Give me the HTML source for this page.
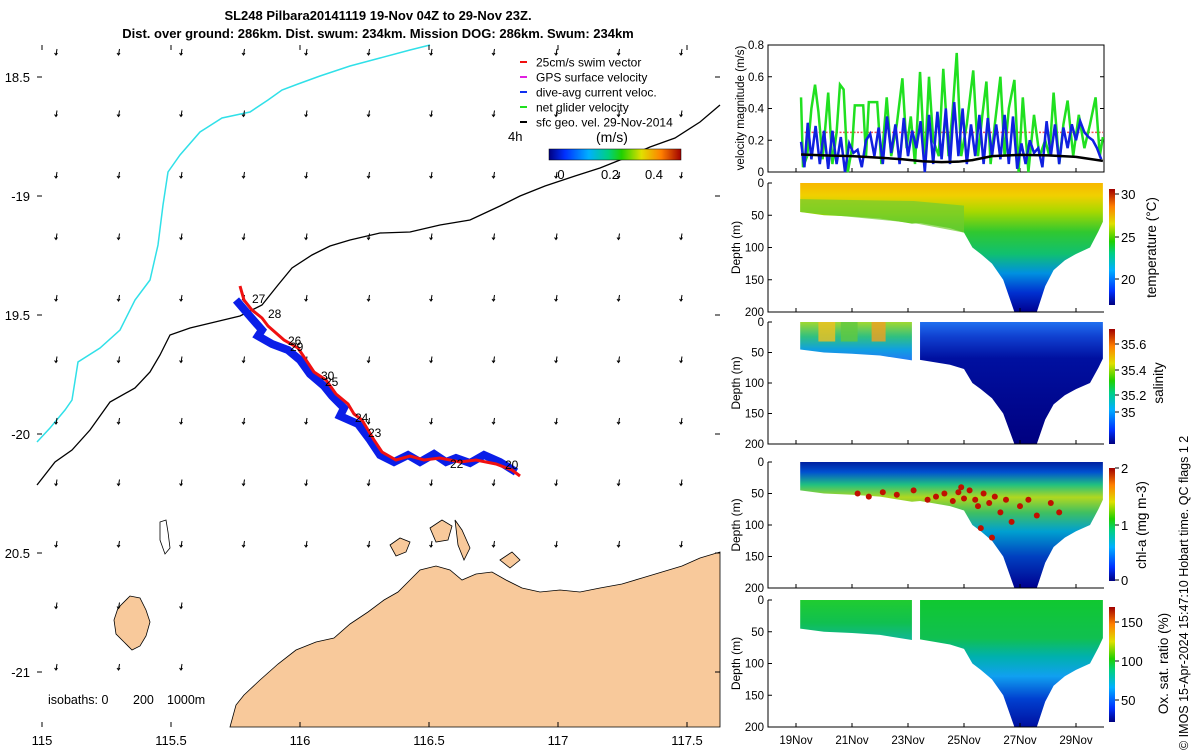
<!DOCTYPE html>
<html><head><meta charset="utf-8">
<style>
html,body{margin:0;padding:0;background:#fff;}
svg{display:block;font-family:"Liberation Sans",sans-serif;}
</style></head>
<body>
<svg id="fig" width="1200" height="750" viewBox="0 0 1200 750" xmlns="http://www.w3.org/2000/svg">
<defs id="defs">
<linearGradient id="jetH" x1="0" x2="1" y1="0" y2="0">
<stop offset="0" stop-color="#000080"/><stop offset="0.12" stop-color="#0030ff"/><stop offset="0.3" stop-color="#00b0ff"/><stop offset="0.45" stop-color="#00d080"/><stop offset="0.55" stop-color="#20d000"/><stop offset="0.7" stop-color="#e0e000"/><stop offset="0.85" stop-color="#ff8000"/><stop offset="1" stop-color="#a00000"/>
</linearGradient>
<linearGradient id="jetV" x1="0" x2="0" y1="1" y2="0">
<stop offset="0" stop-color="#000080"/><stop offset="0.12" stop-color="#0030ff"/><stop offset="0.3" stop-color="#00b0ff"/><stop offset="0.45" stop-color="#00d080"/><stop offset="0.55" stop-color="#20d000"/><stop offset="0.7" stop-color="#e0e000"/><stop offset="0.85" stop-color="#ff8000"/><stop offset="1" stop-color="#a00000"/>
</linearGradient>
</defs>

<text x="378" y="20" text-anchor="middle" font-size="13" font-weight="bold">SL248 Pilbara20141119 19-Nov 04Z to 29-Nov 23Z.</text>
<text x="378" y="38" text-anchor="middle" font-size="13" font-weight="bold">Dist. over ground: 286km. Dist. swum: 234km. Mission DOG: 286km. Swum: 234km</text>

<g id="map"></g>
<g id="right"></g>

<text x="0" y="0" transform="translate(1188,750) rotate(-90)" font-size="12.5">© IMOS 15-Apr-2024 15:47:10 Hobart time. QC flags 1  2</text>
</svg>

<script>
const NS="http://www.w3.org/2000/svg";
function mk(parent,tag,attrs,txt){const e=document.createElementNS(NS,tag);for(const k in attrs)e.setAttribute(k,attrs[k]);if(txt!==undefined)e.textContent=txt;parent.appendChild(e);return e;}

// ---------------- DATA ----------------
const mapLonTicks=[115,115.5,116,116.5,117,117.5];
const mapLonLabels=["115","115.5","116","116.5","117","117.5"];
const mapLatTicks=[-18.5,-19,-19.5,-20,-20.5,-21];
const mapLatLabels=["18.5","-19","19.5","-20","20.5","-21"];
const dayTicks=[1,3,5,7,9,11];
const dayLabels=["19Nov","21Nov","23Nov","25Nov","27Nov","29Nov"];
const velTicks=[0,0.2,0.4,0.6,0.8];
const depthTicks=[0,50,100,150,200];
const greenT=[1.18,1.25,1.4,1.55,1.68,1.8,1.95,2.15,2.3,2.45,2.57,2.7,2.85,3.0,3.1,3.4,3.5,3.6,3.9,4.05,4.24,4.4,4.6,4.8,4.95,5.1,5.25,5.43,5.6,5.75,5.9,6.1,6.26,6.45,6.6,6.74,6.9,7.1,7.33,7.5,7.65,7.8,7.95,8.1,8.3,8.45,8.6,8.8,8.95,9.1,9.3,9.5,9.7,9.9,10.05,10.2,10.4,10.55,10.7,10.9,11.1,11.3,11.5,11.7,11.85,11.96];
const greenV=[0.47,0.03,0.1,0.4,0.55,0.38,0.08,0.5,0.05,0.25,0.55,0.52,0.0,0.15,0.42,0.42,0.1,0.44,0.44,0.05,0.47,0.1,0.3,0.59,0.15,0.35,0.05,0.63,0.05,0.6,0.2,0.1,0.65,0.1,0.4,0.75,0.1,0.3,0.64,0.1,0.35,0.57,0.05,0.3,0.6,0.1,0.4,0.58,0.0,0.47,0.0,0.36,0.1,0.2,0.1,0.5,0.05,0.3,0.45,0.1,0.36,0.15,0.3,0.47,0.1,0.22];
const blueT=[1.18,1.3,1.42,1.55,1.7,1.85,2.0,2.15,2.3,2.45,2.6,2.75,2.9,3.05,3.2,3.35,3.5,3.65,3.8,3.95,4.1,4.25,4.4,4.55,4.7,4.85,5.0,5.15,5.3,5.45,5.6,5.75,5.9,6.05,6.2,6.35,6.5,6.65,6.8,6.95,7.1,7.25,7.4,7.55,7.7,7.85,8.0,8.15,8.3,8.45,8.6,8.75,8.9,9.05,9.2,9.35,9.5,9.65,9.8,9.95,10.1,10.25,10.4,10.55,10.7,10.85,11.0,11.15,11.3,11.45,11.6,11.75,11.9];
const blueV=[0.19,0.03,0.31,0.08,0.29,0.05,0.26,0.02,0.26,0.05,0.22,0.0,0.18,0.12,0.14,0.03,0.2,0.24,0.1,0.28,0.05,0.35,0.12,0.3,0.05,0.34,0.1,0.26,0.15,0.32,0.0,0.36,0.05,0.38,0.08,0.4,0.05,0.44,0.1,0.4,0.05,0.3,0.1,0.36,0.05,0.34,0.1,0.3,0.08,0.36,0.05,0.35,0.02,0.18,0.05,0.2,0.12,0.15,0.03,0.32,0.1,0.3,0.05,0.28,0.15,0.3,0.2,0.32,0.25,0.22,0.2,0.15,0.08];
const blackT=[1.18,2,3,4,4.8,5.5,6.2,6.8,7.3,8,9,10,11,11.96];
const blackV=[0.11,0.105,0.1,0.09,0.08,0.068,0.062,0.065,0.075,0.1,0.108,0.105,0.095,0.07];
const swimV=0.25;
const bottomT=[1.15,2,3,4,5.14,5.43,6.5,7.0,7.3,7.6,8.0,8.4,8.8,9.6,9.9,10.2,10.6,11.0,11.5,11.8,11.96];
const bottomD=[45,50,52,55,63,62,70,77,100,110,125,150,200,200,160,135,120,110,100,75,60];
const chlDotT=[3.2,3.6,4.1,4.6,5.2,5.7,6.0,6.3,6.6,6.8,7.0,7.2,7.4,7.5,7.7,7.9,8.1,8.3,8.5,8.7,9.0,9.3,9.6,10.1,10.4,6.9,7.6,8.0];
const chlDotD=[50,55,48,52,45,60,55,50,62,48,58,45,60,70,50,65,55,80,60,95,70,60,85,65,80,40,105,120];

// ---------------- MAP ----------------
const map=document.getElementById('map');
const lonX=l=>42+(l-115)*258;
const latY=l=>77+(-18.5-l)*238;
const land=mk(map,'path',{d:"M230,727 L236,705 L244,695 L260,680 L278,664 L296,650 L316,642 L334,638 L350,624 L368,612 L384,600 L398,592 L410,580 L420,570 L436,566 L450,570 L462,580 L476,574 L492,572 L506,580 L522,588 L540,592 L560,590 L580,592 L600,588 L622,584 L642,578 L662,572 L682,566 L700,558 L720,552 L720,727 Z",fill:"#f8c99b",stroke:"#000","stroke-width":"0.8"});


const isl=mk(map,'path',{d:"M118,608 L130,596 L140,598 L146,610 L150,622 L146,636 L140,646 L132,650 L124,642 L116,634 L114,620 Z",fill:"#f8c99b",stroke:"#000","stroke-width":"0.8"});


const isl2=mk(map,'path',{d:"M390,545 L400,538 L410,542 L406,552 L396,556 Z M430,528 L442,520 L452,526 L448,540 L436,542 Z M455,520 L462,530 L470,548 L464,560 L458,545 Z M500,560 L512,552 L520,560 L510,568 Z",fill:"#f8c99b",stroke:"#000","stroke-width":"0.8"});


const isl3=mk(map,'path',{d:"M160,522 L166,520 L168,532 L170,548 L165,554 L160,540 Z",fill:"none",stroke:"#000","stroke-width":"0.8"});


const cyan=mk(map,'polyline',{points:"37,442 50,428 65,410 72,400 78,362 100,348 120,330 135,300 150,280 158,245 163,205 168,172 180,155 200,132 222,118 250,112 268,100 282,90 298,84 320,76 350,66 380,58 410,50 430,45",fill:"none",stroke:"#30e0e8","stroke-width":"1.5"});


const blk=mk(map,'polyline',{points:"37,485 55,462 72,450 90,430 110,402 135,388 150,372 160,355 170,335 190,328 215,322 240,316 262,305 278,285 292,268 312,255 330,246 350,240 380,233 410,232 440,225 470,220 500,206 520,196 545,186 575,176 600,168 625,158 650,147 675,138 700,122 720,105",fill:"none",stroke:"#000","stroke-width":"1.3"});


for(let i=0;i<11;i++){for(let j=0;j<11;j++){
  const x=57+i*62.5, y=52+j*61.5;
  if(y>560 && x>240) continue;
  if(y>600 && x>215) continue;
  const a=mk(map,'path',{d:`M${x},${y-3} L${x-1},${y+3} M${x-2.5},${y+1} L${x-1},${y+3} L${x+0.5},${y+1}`,stroke:"#000","stroke-width":"1",fill:"none"});
  
  
}}
const trk=mk(map,'polyline',{points:"236,300 248,314 262,330 258,336 272,344 288,350 300,360 310,374 324,386 332,396 344,408 340,416 358,424 370,440 380,455 394,462 408,455 420,462 434,454 446,462 456,458 470,463 484,455 500,462 516,472",fill:"none",stroke:"#0a1ee8","stroke-width":"8","stroke-linejoin":"miter"});


const trkr=mk(map,'polyline',{points:"240,286 244,300 252,310 262,318 268,326 284,340 298,348 306,360 314,372 326,380 336,394 348,404 354,414 362,420 368,430 374,440 382,452 396,460 410,456 424,460 440,458 460,462 476,460 496,464 512,470 520,476",fill:"none",stroke:"#f01010","stroke-width":"3"});


const tLabels=[["27",252,303],["28",268,318],["26",288,345],["29",290,351],["30",321,380],["25",325,386],["24",355,422],["23",368,437],["22",450,468],["20",505,469]];
tLabels.forEach(t=>{const e=mk(map,'text',{x:t[1],y:t[2],"font-size":"12"},t[0]);
  
  });
mapLonTicks.forEach((v,i)=>{const x=lonX(v);
  mk(map,'line',{x1:x,x2:x,y1:727,y2:722,stroke:"#000"});
  mk(map,'line',{x1:x,x2:x,y1:45,y2:50,stroke:"#000"});
  const e=mk(map,'text',{x:x,y:745,"font-size":"13","text-anchor":"middle"},mapLonLabels[i]);
  
  });
mapLatTicks.forEach((v,i)=>{const y=latY(v);
  mk(map,'line',{x1:37,x2:42,y1:y,y2:y,stroke:"#000"});
  mk(map,'line',{x1:715,x2:720,y1:y,y2:y,stroke:"#000"});
  const e=mk(map,'text',{x:30,y:y+5,"font-size":"13","text-anchor":"end"},mapLatLabels[i]);
  
  });
[["isobaths: 0",48],["200",133],["1000m",167]].forEach(t=>{
  const iso=mk(map,'text',{x:t[1],y:704,"font-size":"12.5"},t[0]);
  
  });
const legItems=[["25cm/s swim vector","#f01010"],["GPS surface velocity","#e020e0"],["dive-avg current veloc.","#1030f0"],["net glider velocity","#20e020"],["sfc geo. vel. 29-Nov-2014","#000"]];
legItems.forEach((it,i)=>{const y=62+i*15;
  const l=mk(map,'line',{x1:520,x2:527,y1:y,y2:y,stroke:it[1],"stroke-width":"2"});
  
  
  const e=mk(map,'text',{x:536,y:y+4.5,"font-size":"12"},it[0]);
  
  });
const h4=mk(map,'text',{x:508,y:141,"font-size":"13"},"4h");


const ms=mk(map,'text',{x:596,y:142,"font-size":"14"},"(m/s)");


const cb=mk(map,'rect',{x:549,y:149,width:132,height:11,fill:"url(#jetH)",stroke:"#000","stroke-width":"0.5"});


[["0",561],["0.2",610],["0.4",654]].forEach(t=>{const e=mk(map,'text',{x:t[1],y:179,"font-size":"13","text-anchor":"middle"},t[0]);
  
  });

// ---------------- RIGHT PANELS ----------------
const R=document.getElementById('right');
const defs=document.getElementById('defs');
const X0=768, DX=28;
const tx=t=>X0+t*DX;
function interpBottom(t){for(let i=0;i<bottomT.length-1;i++){if(t>=bottomT[i]&&t<=bottomT[i+1]){const f=(t-bottomT[i])/(bottomT[i+1]-bottomT[i]);return bottomD[i]+f*(bottomD[i+1]-bottomD[i]);}}return bottomD[bottomD.length-1];}
function grad(id,y1,y2,stops){const g=mk(defs,'linearGradient',{id:id,gradientUnits:"userSpaceOnUse",x1:0,x2:0,y1:y1,y2:y2});stops.forEach(s=>mk(g,'stop',{offset:s[0],"stop-color":s[1]}));return "url(#"+id+")";}

const vTop=45,vBot=172;
const vy=v=>vBot-(v/0.8)*(vBot-vTop);
const vbox=mk(R,'rect',{x:768,y:vTop,width:336,height:vBot-vTop,fill:"none",stroke:"#000","stroke-width":"1"});


velTicks.forEach(v=>{const y=vy(v);mk(R,'line',{x1:768,x2:772,y1:y,y2:y,stroke:"#000"});mk(R,'line',{x1:1100,x2:1104,y1:y,y2:y,stroke:"#000"});
  const e=mk(R,'text',{x:764,y:y+4,"font-size":"11.5","text-anchor":"end"},v===0?"0":v.toFixed(1));
  
  });
dayTicks.forEach(d=>{mk(R,'line',{x1:tx(d),x2:tx(d),y1:vBot,y2:vBot-4,stroke:"#000"});});
const swim=mk(R,'line',{x1:tx(greenT[0]),x2:tx(11.96),y1:vy(swimV),y2:vy(swimV),stroke:"#f05050","stroke-width":"1.5","stroke-dasharray":"2,1.5"});


const gl=mk(R,'polyline',{points:greenT.map((t,i)=>tx(t)+","+vy(greenV[i])).join(" "),fill:"none",stroke:"#20e020","stroke-width":"2.5"});


const bl=mk(R,'polyline',{points:blueT.map((t,i)=>tx(t)+","+vy(blueV[i])).join(" "),fill:"none",stroke:"#1020e0","stroke-width":"2.5"});


const kl=mk(R,'polyline',{points:blackT.map((t,i)=>tx(t)+","+vy(blackV[i])).join(" "),fill:"none",stroke:"#000","stroke-width":"2.5"});


const vyl=mk(R,'text',{transform:"translate(744,108) rotate(-90)","font-size":"11.5","text-anchor":"middle"},"velocity magnitude (m/s)");



const panels=[
 {top:183,bot:312,gap:false,name:"temperature",label:"temperature (°C)",lx:1156,cbTop:189,cbBot:305,ticks:[["30",194],["25",237],["20",279]],
  stops:[[0,"#f8b800"],[0.1,"#f0d000"],[0.22,"#a8d800"],[0.38,"#30c830"],[0.55,"#10c070"],[0.7,"#0090e0"],[0.85,"#0030d0"],[1,"#000090"]]},
 {top:322,bot:444,gap:true,name:"salinity",label:"salinity",lx:1163,cbTop:329,cbBot:444,ticks:[["35.6",344],["35.4",370],["35.2",395],["35",412]],
  stops:[[0,"#2070f0"],[0.12,"#1040d0"],[0.3,"#0010a0"],[1,"#000080"]]},
 {top:462,bot:588,gap:false,name:"chlorophyll",label:"chl-a (mg m-3)",lx:1146,cbTop:468,cbBot:581,ticks:[["2",468],["1",525],["0",580]],
  stops:[[0,"#0020a0"],[0.08,"#0050d0"],[0.18,"#20c080"],[0.28,"#b0d820"],[0.4,"#40c060"],[0.55,"#00a0d0"],[0.75,"#0040c0"],[1,"#000090"]]},
 {top:600,bot:727,gap:true,name:"oxygen",label:"Ox. sat. ratio (%)",lx:1168,cbTop:607,cbBot:722,ticks:[["150",622],["100",661],["50",700]],
  stops:[[0,"#10c830"],[0.3,"#10c050"],[0.45,"#00b0b0"],[0.6,"#10a0f0"],[0.78,"#0040d0"],[1,"#0010a0"]]}
];
panels.forEach((p,pi)=>{
  const dy=d=>p.top+d/200*(p.bot-p.top);
  const mainFill=grad("g"+pi,p.top,p.bot,p.stops);
  let leftFill=mainFill;
  if(p.name==="salinity") leftFill=grad("gsl"+pi,p.top,dy(60),[[0,"#a0d830"],[0.4,"#30c080"],[0.75,"#10a0e0"],[1,"#2080f0"]]);
  if(p.name==="oxygen") leftFill=grad("gol"+pi,p.top,dy(60),[[0,"#20cc30"],[0.6,"#10c050"],[1,"#10b890"]]);
  const segs=p.gap?[[1.15,5.14],[5.43,11.96]]:[[1.15,11.96]];
  segs.forEach((s,si)=>{
    const pts=[];
    pts.push(tx(s[0])+","+dy(0));pts.push(tx(s[1])+","+dy(0));
    const bts=bottomT.filter(t=>t>s[0]&&t<s[1]);
    const all=[s[1],...bts.slice().reverse(),s[0]];
    all.forEach(t=>pts.push(tx(t)+","+dy(interpBottom(t))));
    const g=mk(R,'polygon',{points:pts.join(" "),fill:(p.gap&&si===0)?leftFill:mainFill});
    
    
  });
  if(p.name==="temperature"){
    const w=mk(R,'polygon',{points:`${tx(1.15)},${dy(25)} ${tx(5.2)},${dy(28)} ${tx(7)},${dy(35)} ${tx(7)},${dy(77)} ${tx(5.2)},${dy(62)} ${tx(1.15)},${dy(45)}`,fill:"#70cc30",opacity:"0.7"});
    
    
  }
  if(p.name==="salinity"){
    [[1.8,2.4,"#f0c020"],[3.7,4.2,"#f0a020"],[2.6,3.2,"#60c840"]].forEach(b=>{
      const r=mk(R,'rect',{x:tx(b[0]),y:dy(0),width:(b[1]-b[0])*DX,height:dy(32)-dy(0),fill:b[2],opacity:"0.8"});
      
      
    });
  }
  if(p.name==="chlorophyll"){
    chlDotT.forEach((t,i)=>{const c=mk(R,'circle',{cx:tx(t),cy:dy(chlDotD[i]),r:"3",fill:"#c01000"});
      
      });
  }
  const ax=mk(R,'path',{d:`M768,${p.top} L768,${p.bot} L1104,${p.bot}`,fill:"none",stroke:"#000","stroke-width":"1"});
  
  
  depthTicks.forEach(d=>{const y=dy(d);mk(R,'line',{x1:768,x2:772,y1:y,y2:y,stroke:"#000"});
    const e=mk(R,'text',{x:764,y:y+4,"font-size":"11.5","text-anchor":"end"},String(d));
    
    });
  dayTicks.forEach(d=>{mk(R,'line',{x1:tx(d),x2:tx(d),y1:p.bot,y2:p.bot-4,stroke:"#000"});});
  const yl=mk(R,'text',{transform:`translate(740,${(p.top+p.bot)/2}) rotate(-90)`,"font-size":"12","text-anchor":"middle"},"Depth (m)");
  
  
  const c=mk(R,'rect',{x:1109,y:p.cbTop,width:6,height:p.cbBot-p.cbTop,fill:"url(#jetV)"});
  
  
  p.ticks.forEach(t=>{mk(R,'line',{x1:1115,x2:1119,y1:t[1],y2:t[1],stroke:"#000"});
    const e=mk(R,'text',{x:1121,y:t[1]+5,"font-size":"13"},t[0]);
    
    });
  const cl=mk(R,'text',{transform:`translate(${p.lx},${(p.top+p.bot)/2}) rotate(-90)`,"font-size":"13.5","text-anchor":"middle"},p.label);
  
  
});
dayTicks.forEach((d,i)=>{const e=mk(R,'text',{x:tx(d),y:744,"font-size":"11.5","text-anchor":"middle"},dayLabels[i]);
  
  });
</script>
</body></html>
